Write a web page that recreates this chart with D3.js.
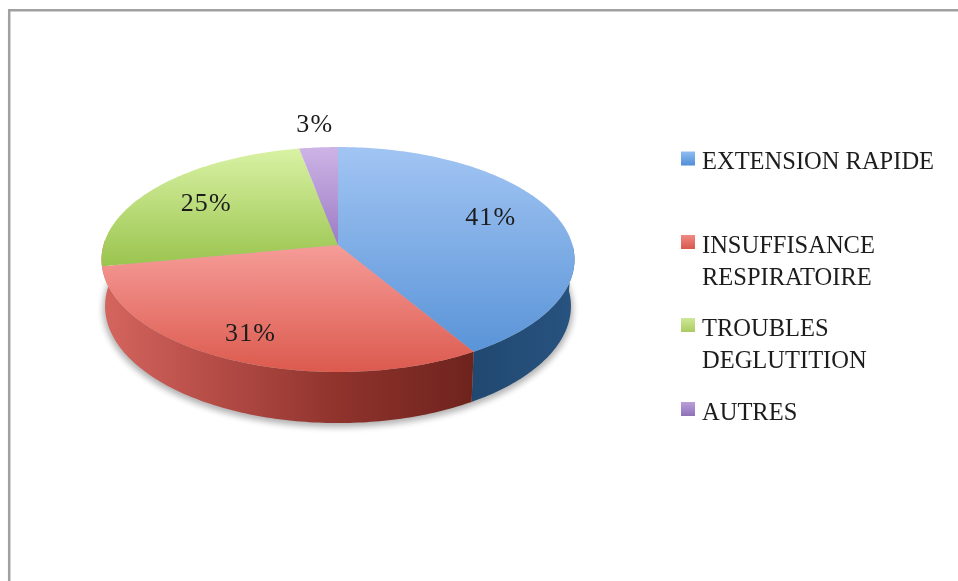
<!DOCTYPE html>
<html>
<head>
<meta charset="utf-8">
<script src="https://cdn.jsdelivr.net/npm/d3@7"></script>
<style>
  html, body { margin: 0; padding: 0; background: #fff; overflow: hidden; }
  svg { display: block; }
  text { font-family: "Liberation Serif", serif; fill: #1c1c1c; }
</style>
</head>
<body>
<script>
// valeurs (affichees arrondies)
const categories = ['EXTENSION RAPIDE', 'INSUFFISANCE RESPIRATOIRE', 'TROUBLES DEGLUTITION', 'AUTRES'];
const values = [41.4, 30.6, 25, 3];
const legendLines = [['EXTENSION RAPIDE'], ['INSUFFISANCE', 'RESPIRATOIRE'], ['TROUBLES', 'DEGLUTITION'], ['AUTRES']];

const width = 958;
const height = 581;

// couleurs du dessus et de la legende
const topLight = ['#a2c5f3', '#f69c98', '#d9f2a4', '#cdb4e6'];
const topDark = ['#5a94d8', '#dc5a4e', '#9ac44e', '#9c7cc4'];
const legendLight = ['#8fbdf0', '#f08a84', '#cfe896', '#b9a0da'];
const legendDark = ['#4f8fd6', '#d9574f', '#a9cc62', '#8f70b8'];

// disque en perspective (un cercle vu de biais)
const cx = 338;
const p = 0.129;
const topDisc = { cy: 245, A: 234.5, B: 110.6 };
const bottomDisc = { cy: 291, A: 231, B: 115 };

function project(angle, disc = topDisc, r = 1) {
  const u = r * Math.sin(angle);
  const v = -r * Math.cos(angle);
  const w = 1 - p * v;
  return [cx + disc.A * u / w, disc.cy + disc.B * v / w];
}

const svg = d3.select('body').append('svg')
  .attr('width', width)
  .attr('height', height);

const defs = svg.append('defs');

// cadre gris: seulement en haut et a gauche
svg.append('path')
  .attr('d', `M${width},10.2H9.2V${height}`)
  .attr('fill', 'none')
  .attr('stroke', '#a0a0a0')
  .attr('stroke-width', 2.5);

defs.append('filter').attr('id', 'soft')
  .attr('x', '-10%').attr('y', '-10%').attr('width', '120%').attr('height', '130%')
  .append('feGaussianBlur').attr('stdDeviation', 3);
defs.append('filter').attr('id', 'txt')
  .append('feGaussianBlur').attr('stdDeviation', 0.4);

const pie = d3.pie().sort(null).value(d => d);
const slices = pie(values);
const line = d3.line();

function arcPoints(a0, a1, disc = topDisc) {
  const n = Math.max(2, Math.ceil((a1 - a0) * 60));
  return d3.range(n + 1).map(i => project(a0 + (a1 - a0) * i / n, disc));
}

// ombre sous le disque
svg.append('path')
  .attr('d', line(arcPoints(0, 2 * Math.PI, { cy: bottomDisc.cy + 3, A: bottomDisc.A + 2, B: bottomDisc.B + 1 })) + 'Z')
  .attr('fill', '#000')
  .attr('opacity', 0.3)
  .attr('filter', 'url(#soft)');

// cotes visibles: bleu puis rouge jusqu'au bord gauche
const sideStops = [
  [[0, '#204870'], [1, '#28527f']],
  [[0, '#d4645e'], [0.3, '#b54c46'], [0.65, '#8e322c'], [1, '#6f231d']]
];
const sideRange = [
  [Math.PI / 2, slices[0].endAngle],
  [slices[1].startAngle, 3 * Math.PI / 2 + 0.05]
];
sideRange.forEach((r, i) => {
  const top = arcPoints(r[0], r[1]);
  const bottom = arcPoints(r[0], r[1], bottomDisc).reverse();
  const xs = bottom.map(d => d[0]);
  const id = 'side' + i;
  const g = defs.append('linearGradient').attr('id', id)
    .attr('gradientUnits', 'userSpaceOnUse')
    .attr('x1', d3.min(xs)).attr('x2', d3.max(xs)).attr('y1', 0).attr('y2', 0);
  sideStops[i].forEach(st => g.append('stop').attr('offset', st[0]).attr('stop-color', st[1]));
  svg.append('path')
    .attr('d', line(top.concat(bottom)) + 'Z')
    .attr('fill', `url(#${id})`);
});

// dessus du disque
slices.forEach((s, i) => {
  const pts = [[cx, topDisc.cy]].concat(arcPoints(s.startAngle, s.endAngle));
  const ys = pts.map(d => d[1]);
  const id = 'top' + i;
  const g = defs.append('linearGradient').attr('id', id)
    .attr('gradientUnits', 'userSpaceOnUse')
    .attr('x1', 0).attr('x2', 0).attr('y1', d3.min(ys)).attr('y2', d3.max(ys));
  g.append('stop').attr('offset', 0).attr('stop-color', topLight[i]);
  g.append('stop').attr('offset', 1).attr('stop-color', topDark[i]);
  svg.append('path')
    .attr('d', line(pts) + 'Z')
    .attr('fill', `url(#${id})`);
});

// etiquettes en pourcentage
const labelRadius = [0.72, 0.72, 0.72, 1.22];
const labelNudge = [[-6, -8], [-12, 7], [1, -1], [0, -6]];
slices.forEach((s, i) => {
  const q = project((s.startAngle + s.endAngle) / 2, topDisc, labelRadius[i]);
  svg.append('text')
    .attr('x', q[0] + labelNudge[i][0]).attr('y', q[1] + labelNudge[i][1])
    .attr('dy', '0.35em')
    .attr('text-anchor', 'middle')
    .attr('font-size', 26)
    .attr('letter-spacing', 1.2)
    .attr('filter', 'url(#txt)')
    .text(Math.round(values[i]) + '%');
});

// legende
const legendY = d3.scaleOrdinal().domain(categories).range([158.5, 242, 325, 409]);
categories.forEach((c, i) => {
  const y = legendY(c);
  const id = 'leg' + i;
  const g = defs.append('linearGradient').attr('id', id).attr('x2', 0).attr('y2', 1);
  g.append('stop').attr('offset', 0).attr('stop-color', legendLight[i]);
  g.append('stop').attr('offset', 1).attr('stop-color', legendDark[i]);
  svg.append('rect')
    .attr('x', 681).attr('y', y - 7)
    .attr('width', 14).attr('height', 14)
    .attr('fill', `url(#${id})`);
  const t = svg.append('text')
    .attr('x', 702).attr('y', y + 10.5)
    .attr('font-size', 24.5)
    .attr('filter', 'url(#txt)');
  legendLines[i].forEach((l, k) => {
    t.append('tspan').attr('x', 702).attr('dy', k ? 32 : 0).text(l);
  });
});
</script>
</body>
</html>
